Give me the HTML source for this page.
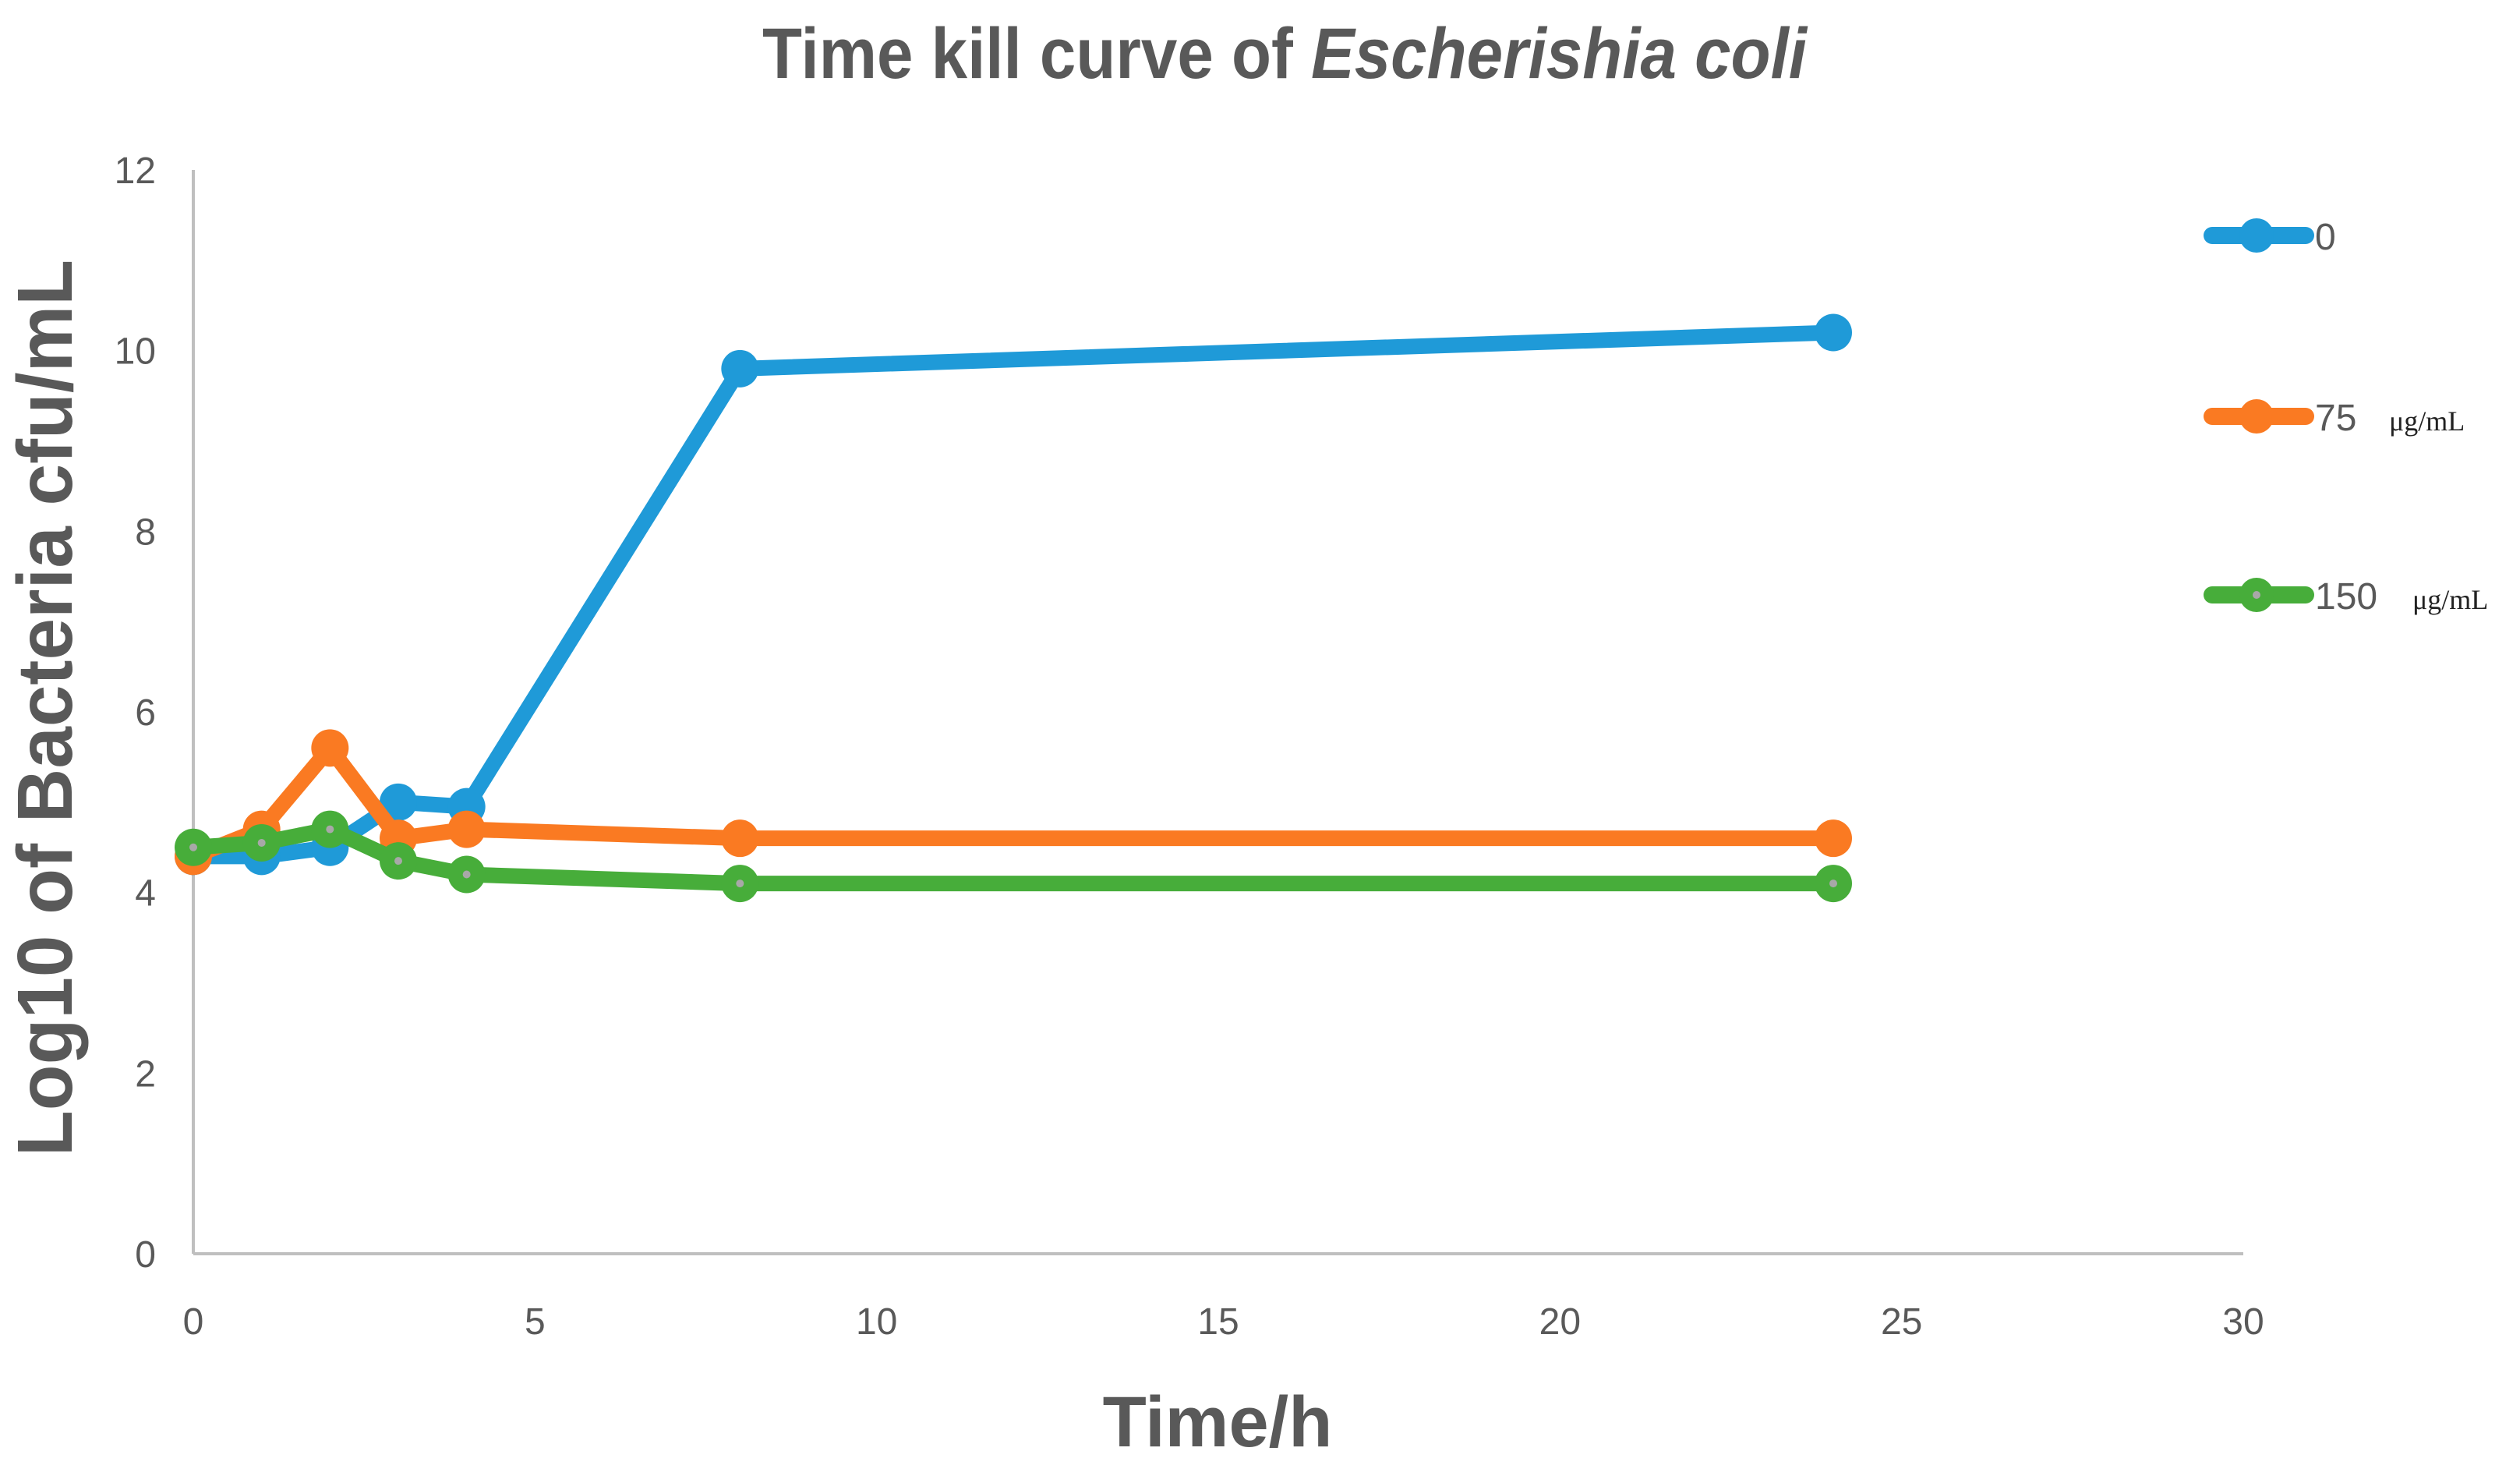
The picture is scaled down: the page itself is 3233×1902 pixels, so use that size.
<!DOCTYPE html>
<html><head><meta charset="utf-8"><style>body{margin:0;background:#fff}svg{display:block}</style></head>
<body>
<svg id="chart" width="3233" height="1902" xmlns="http://www.w3.org/2000/svg" font-family="Liberation Sans, sans-serif">
<text x="1648" y="100" text-anchor="middle" font-size="92" font-weight="bold" fill="#595959" textLength="1340" lengthAdjust="spacingAndGlyphs">Time kill curve of <tspan font-style="italic">Escherishia coli</tspan></text>
<text transform="translate(92,908) rotate(-90)" text-anchor="middle" font-size="100" font-weight="bold" fill="#595959" textLength="1150" lengthAdjust="spacingAndGlyphs">Log10 of Bacteria cfu/mL</text>
<text x="1562" y="1855" text-anchor="middle" font-size="92" font-weight="bold" fill="#595959">Time/h</text>
<g id="axes"></g>
<g id="series"></g>
<g id="legend"></g>
</svg>
<script>
const times = [0, 1, 2, 3, 4, 8, 24];
const series0 = [4.4, 4.4, 4.5, 5.0, 4.95, 9.8, 10.2];
const series75 = [4.4, 4.7, 5.6, 4.6, 4.7, 4.6, 4.6];
const series150 = [4.5, 4.55, 4.7, 4.35, 4.2, 4.1, 4.1];
const xTicks = [0, 5, 10, 15, 20, 25, 30];
const yTicks = [0, 2, 4, 6, 8, 10, 12];
const seriesNames = ["0", "75", "150"];

const NS = "http://www.w3.org/2000/svg";
const X0 = 248, X1 = 2878, Y0 = 1608, Y1 = 218;
const xs = v => X0 + (v - 0) / 30 * (X1 - X0);
const ys = v => Y0 - v / 12 * (Y0 - Y1);
function mk(tag, attrs, parent) { const e = document.createElementNS(NS, tag); for (const k in attrs) e.setAttribute(k, attrs[k]); parent.appendChild(e); return e; }

const axes = document.getElementById('axes');
let a = mk('line', {x1: X0, y1: Y1, x2: X0, y2: Y0, stroke: '#bfbfbf', 'stroke-width': 4}, axes);


a = mk('line', {x1: X0, y1: Y0, x2: X1, y2: Y0, stroke: '#bfbfbf', 'stroke-width': 4}, axes);


xTicks.forEach(t => {
  const e = mk('text', {x: xs(t), y: Y0 + 103, 'text-anchor': 'middle', 'font-size': 48, fill: '#595959'}, axes);
  e.textContent = t;
  
  
});
yTicks.forEach(t => {
  const e = mk('text', {x: X0 - 48, y: ys(t) + 17, 'text-anchor': 'end', 'font-size': 48, fill: '#595959'}, axes);
  e.textContent = t;
  
  
});

const colors = ['#1f9ad8', '#fa7a22', '#47ad3a'];
const data = [series0, series75, series150];
const sg = document.getElementById('series');
data.forEach((vals, i) => {
  const g = mk('g', {}, sg);
  
  
  const pts = vals.map((v, j) => xs(times[j]) + ',' + ys(v)).join(' ');
  const pl = mk('polyline', {points: pts, fill: 'none', stroke: colors[i], 'stroke-width': 20, 'stroke-linejoin': 'round', 'stroke-linecap': 'round'}, g);
  
  
  vals.forEach((v, j) => {
    const c = mk('circle', {cx: xs(times[j]), cy: ys(v), r: 24, fill: colors[i]}, g);
    
    
    if (i === 2) { const d = mk('circle', {cx: xs(times[j]), cy: ys(v), r: 5, fill: '#a8a8a8'}, g);
      
       }
  });
});

const lg = document.getElementById('legend');
const ly = [302, 534, 763];
const labels = ['0', '75', '150'];
const unitX = [null, 3065, 3095];
ly.forEach((y, i) => {
  const g = mk('g', {}, lg);
  
  
  mk('line', {x1: 2838, y1: y, x2: 2958, y2: y, stroke: colors[i], 'stroke-width': 22, 'stroke-linecap': 'round'}, g);
  mk('circle', {cx: 2895, cy: y, r: 22, fill: colors[i]}, g);
  if (i === 2) mk('circle', {cx: 2895, cy: y, r: 5, fill: '#a8a8a8'}, g);
  const t = mk('text', {x: 2970, y: y + 18, 'font-size': 48, fill: '#595959'}, g);
  t.textContent = labels[i];
  if (unitX[i]) { const u = mk('text', {x: unitX[i], y: y + 18, 'font-size': 36, 'font-family': 'Liberation Serif, serif', fill: '#222'}, g); u.textContent = 'μg/mL'; }
});
</script>
</body></html>
